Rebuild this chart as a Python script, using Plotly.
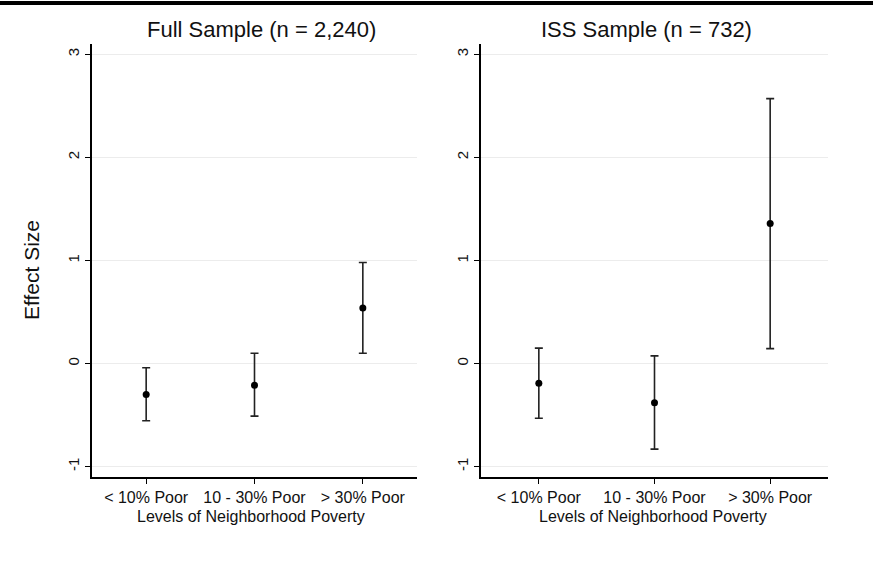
import plotly.graph_objects as go

categories = ["< 10% Poor", "10 - 30% Poor", "> 30% Poor"]
cat_pos = [1, 2, 3]

full_est = [-0.30, -0.21, 0.54]
full_hi = [-0.04, 0.10, 0.98]
full_lo = [-0.555, -0.51, 0.10]

iss_est = [-0.19, -0.38, 1.36]
iss_hi = [0.15, 0.075, 2.57]
iss_lo = [-0.53, -0.83, 0.145]

panel_titles = ["Full Sample (n = 2,240)", "ISS Sample (n = 732)"]
y_ticks = [-1, 0, 1, 2, 3]
y_ticktext = ["-1", "0", "1", "2", "3"]
x_title = "Levels of Neighborhood Poverty"
y_title = "Effect Size"

W, H = 873, 561
FONT = "Liberation Sans, Arial, Helvetica, sans-serif"

fig = go.Figure()

def add_panel(est, hi, lo, xa, ya):
    fig.add_trace(go.Scatter(
        x=cat_pos, y=est, mode="markers",
        marker=dict(color="black", size=7),
        error_y=dict(type="data", symmetric=False,
                     array=[h - e for h, e in zip(hi, est)],
                     arrayminus=[e - l for e, l in zip(est, lo)],
                     color="#222222", thickness=1.6, width=4),
        xaxis=xa, yaxis=ya, showlegend=False, hoverinfo="skip"))

add_panel(full_est, full_hi, full_lo, "x", "y")
add_panel(iss_est, iss_hi, iss_lo, "x2", "y2")

ydom = [(H - 477) / H, (H - 44) / H]
xdom1 = [92 / W, 417 / W]
xdom2 = [481 / W, 828 / W]

def xaxis(dom, anchor):
    return dict(domain=dom, anchor=anchor, range=[0.5, 3.5],
                tickvals=cat_pos, ticktext=categories,
                showline=True, linecolor="black", linewidth=1.5,
                ticks="outside", ticklen=5, tickcolor="black", tickwidth=1.2,
                showgrid=False, zeroline=False,
                tickfont=dict(family=FONT, size=16, color="#111111"))

def yaxis(anchor):
    return dict(domain=ydom, anchor=anchor, range=[-1.1, 3.1],
                tickvals=y_ticks, ticktext=y_ticktext, tickangle=-90,
                showline=True, linecolor="black", linewidth=1.5,
                ticks="outside", ticklen=5, tickcolor="black", tickwidth=1.2,
                showgrid=True, gridcolor="#ececec", gridwidth=1,
                zeroline=False,
                tickfont=dict(family=FONT, size=15, color="#111111"))

def ann(text, xpx, ypx, size, angle=0):
    return dict(text=text, x=xpx / W, y=(H - ypx) / H, textangle=angle,
                xanchor="center", yanchor="middle",
                xref="paper", yref="paper", showarrow=False,
                font=dict(family=FONT, size=size, color="#111111"))

fig.update_layout(
    width=W, height=H,
    margin=dict(l=0, r=0, t=0, b=0),
    paper_bgcolor="white", plot_bgcolor="white",
    xaxis=xaxis(xdom1, "y"), yaxis=yaxis("x"),
    xaxis2=xaxis(xdom2, "y2"), yaxis2=yaxis("x2"),
    annotations=[
        ann(panel_titles[0], 261, 30, 22),
        ann(panel_titles[1], 646, 30, 22),
        ann(y_title, 31, 270, 21, -90),
        ann(x_title, 251, 516, 16),
        ann(x_title, 653, 516, 16),
    ],
    shapes=[dict(type="line", xref="paper", yref="paper", x0=0, x1=1,
                 y0=(H - 3) / H, y1=(H - 3) / H,
                 line=dict(color="black", width=4))],
)

fig.write_html("out.html")
